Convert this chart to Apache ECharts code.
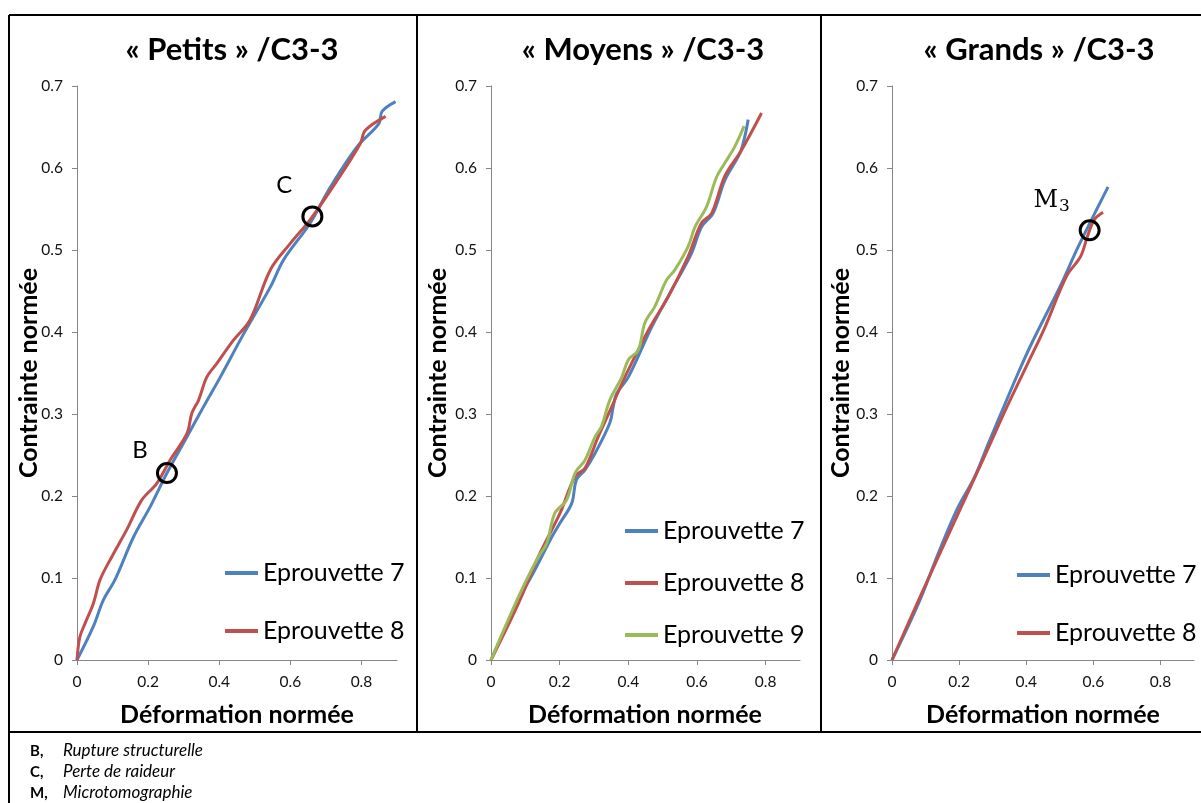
<!DOCTYPE html>
<html><head><meta charset="utf-8">
<script src="https://cdn.jsdelivr.net/npm/echarts@6/dist/echarts.min.js"></script>
<style>html,body{margin:0;padding:0;background:#fff}#c{width:1201px;height:803px}</style>
</head><body><div id="c"></div>
<script>
// ---- data ----
const panelTitles = ['« Petits » /C3-3', '« Moyens » /C3-3', '« Grands » /C3-3'];
const xAxisTitle = 'Déformation normée';
const yAxisTitle = 'Contrainte normée';
const xTickValues = [0, 0.2, 0.4, 0.6, 0.8];
const seriesNames = ['Eprouvette 7', 'Eprouvette 8', 'Eprouvette 9'];

const petits7X = [0, 0.046, 0.074, 0.107, 0.159, 0.206, 0.253, 0.309, 0.356, 0.403, 0.469, 0.544, 0.581, 0.656, 0.713, 0.788, 0.849, 0.858, 0.896];
const petits7Y = [0, 0.041, 0.073, 0.098, 0.150, 0.187, 0.228, 0.272, 0.309, 0.345, 0.398, 0.455, 0.488, 0.533, 0.577, 0.626, 0.654, 0.669, 0.681];
const petits8X = [0, 0.008, 0.023, 0.046, 0.065, 0.098, 0.140, 0.182, 0.224, 0.262, 0.309, 0.323, 0.342, 0.365, 0.394, 0.440, 0.487, 0.544, 0.600, 0.656, 0.732, 0.797, 0.811, 0.868];
const petits8Y = [0, 0.028, 0.045, 0.069, 0.098, 0.126, 0.159, 0.195, 0.215, 0.244, 0.276, 0.301, 0.317, 0.345, 0.362, 0.390, 0.415, 0.476, 0.508, 0.537, 0.585, 0.630, 0.646, 0.663];

const moyens7X = [0, 0.080, 0.128, 0.177, 0.201, 0.235, 0.249, 0.274, 0.303, 0.346, 0.356, 0.366, 0.400, 0.468, 0.526, 0.584, 0.613, 0.647, 0.681, 0.725, 0.739, 0.749];
const moyens7Y = [0, 0.073, 0.110, 0.150, 0.167, 0.191, 0.220, 0.232, 0.252, 0.289, 0.309, 0.325, 0.345, 0.406, 0.451, 0.496, 0.528, 0.545, 0.585, 0.618, 0.638, 0.659];
const moyens8X = [0, 0.080, 0.138, 0.201, 0.245, 0.274, 0.312, 0.356, 0.390, 0.458, 0.516, 0.574, 0.613, 0.643, 0.681, 0.730, 0.788];
const moyens8Y = [0, 0.069, 0.126, 0.179, 0.224, 0.234, 0.272, 0.313, 0.345, 0.402, 0.443, 0.492, 0.533, 0.545, 0.590, 0.622, 0.667];
const moyens9X = [0, 0.080, 0.138, 0.162, 0.186, 0.220, 0.245, 0.274, 0.303, 0.322, 0.346, 0.381, 0.400, 0.429, 0.448, 0.477, 0.511, 0.536, 0.574, 0.594, 0.628, 0.657, 0.681, 0.710, 0.737];
const moyens9Y = [0, 0.077, 0.126, 0.142, 0.179, 0.195, 0.228, 0.244, 0.272, 0.285, 0.317, 0.345, 0.366, 0.378, 0.411, 0.431, 0.463, 0.476, 0.504, 0.528, 0.553, 0.589, 0.606, 0.626, 0.651];

const grands7X = [0, 0.079, 0.138, 0.193, 0.247, 0.287, 0.321, 0.376, 0.416, 0.505, 0.555, 0.644];
const grands7Y = [0, 0.069, 0.130, 0.183, 0.224, 0.264, 0.297, 0.350, 0.386, 0.459, 0.504, 0.577];
const grands8X = [0, 0.088, 0.193, 0.262, 0.327, 0.352, 0.405, 0.456, 0.520, 0.562, 0.582, 0.603, 0.629];
const grands8Y = [0, 0.081, 0.175, 0.236, 0.295, 0.317, 0.362, 0.406, 0.468, 0.492, 0.516, 0.537, 0.546];

// annotation markers (circles) per panel
const petitsMarkLabels = ['B', 'C'];
const petitsMarkX = [0.253, 0.662];
const petitsMarkY = [0.228, 0.541];
const grandsMarkLabels = ['M'];
const grandsMarkX = [0.589];
const grandsMarkY = [0.524];

const footLabels = ['B,', 'C,', 'M,'];
const footTexts = ['Rupture structurelle', 'Perte de raideur', 'Microtomographie'];

// ---- build ----
const FONT = 'Lato, "Open Sans", sans-serif';
const SERIF = '"DejaVu Serif", "Liberation Serif", serif';
const colors = ['#4F81BD', '#C0504D', '#9BBB59'];
const pairs = (xs, ys) => xs.map((x, i) => [x, ys[i]]);

const grids = [
  {left: 77, top: 86, width: 320, height: 574},
  {left: 491, top: 86, width: 309, height: 574},
  {left: 892, top: 86, width: 302, height: 574}
];
const titleCenters = [232, 643, 1039];
const xTitleCenters = [237, 645, 1043];
const yTitleCenters = [29, 438, 841];

const xAxes = grids.map((g, i) => ({
  type: 'value', gridIndex: i, min: 0, max: 0.9, interval: 0.2,
  axisLine: {show: true, lineStyle: {color: '#868686', width: 1}},
  axisTick: {show: true, length: 5, customValues: xTickValues, lineStyle: {color: '#868686'}},
  axisLabel: {customValues: xTickValues, margin: 14, fontSize: 15.5, color: '#111', fontFamily: FONT},
  splitLine: {show: false}
}));
const yAxes = grids.map((g, i) => ({
  type: 'value', gridIndex: i, min: 0, max: 0.7, interval: 0.1,
  axisLine: {show: true, lineStyle: {color: '#868686', width: 1}},
  axisTick: {show: true, length: 5, lineStyle: {color: '#868686'}},
  axisLabel: {margin: 14, fontSize: 15.5, color: '#111', fontFamily: FONT},
  splitLine: {show: false}
}));

function lineSeries(name, colorIdx, gi, xs, ys) {
  return {
    type: 'line', name: name, xAxisIndex: gi, yAxisIndex: gi,
    data: pairs(xs, ys), showSymbol: false, symbol: 'none', smooth: 0.35,
    lineStyle: {color: colors[colorIdx], width: 3}, itemStyle: {color: colors[colorIdx]},
    z: 2
  };
}

function markerSeries(gi, labels, xs, ys, labelOffsets, rich) {
  return {
    type: 'scatter', name: 'marks' + gi, xAxisIndex: gi, yAxisIndex: gi,
    symbol: 'circle', symbolSize: 19, z: 5,
    itemStyle: {color: 'rgba(0,0,0,0)', borderColor: '#000', borderWidth: 3, opacity: 1},
    data: xs.map((x, i) => ({
      value: [x, ys[i]],
      label: {show: true, formatter: labels[i] === 'M' ? '{m|M}{s|3}' : labels[i], offset: labelOffsets[i],
        position: 'inside', fontSize: 24, color: '#000', fontFamily: FONT, rich: rich}
    })),
    silent: true
  };
}

const series = [
  lineSeries(seriesNames[0], 0, 0, petits7X, petits7Y),
  lineSeries(seriesNames[1], 1, 0, petits8X, petits8Y),
  lineSeries(seriesNames[0], 0, 1, moyens7X, moyens7Y),
  lineSeries(seriesNames[1], 1, 1, moyens8X, moyens8Y),
  lineSeries(seriesNames[2], 2, 1, moyens9X, moyens9Y),
  lineSeries(seriesNames[0], 0, 2, grands7X, grands7Y),
  lineSeries(seriesNames[1], 1, 2, grands8X, grands8Y),
  markerSeries(0, petitsMarkLabels, petitsMarkX, petitsMarkY, [[-27, -23], [-28, -31]], {}),
  markerSeries(2, grandsMarkLabels, grandsMarkX, grandsMarkY, [[-38, -30]], {
    m: {fontFamily: SERIF, fontSize: 24, color: '#000'},
    s: {fontFamily: SERIF, fontSize: 17, color: '#000', verticalAlign: 'bottom', padding: [12, 0, 0, 1]}
  })
];

const legendBase = {
  orient: 'vertical', icon: 'rect', itemWidth: 33, itemHeight: 4,
  textStyle: {fontSize: 25, color: '#000', fontFamily: FONT, lineHeight: 26},
  padding: 0, selectedMode: false
};
const legends = [
  Object.assign({}, legendBase, {left: 225, top: 560, itemGap: 32, data: [seriesNames[0], seriesNames[1]]}),
  Object.assign({}, legendBase, {left: 625, top: 518, itemGap: 26, data: [seriesNames[0], seriesNames[1], seriesNames[2]]}),
  Object.assign({}, legendBase, {left: 1017, top: 562, itemGap: 32, data: [seriesNames[0], seriesNames[1]]})
];

const titles = panelTitles.map((t, i) => ({
  text: t, left: titleCenters[i], top: 34, textAlign: 'center', padding: 0,
  textStyle: {fontSize: 31, fontWeight: 'bold', color: '#000', fontFamily: FONT}
}));

const graphic = [];
// frame lines
const lineStyle = {stroke: '#000', lineWidth: 2};
graphic.push({type: 'line', shape: {x1: 9, y1: 15, x2: 1201, y2: 15}, style: lineStyle, silent: true});
graphic.push({type: 'line', shape: {x1: 9, y1: 15, x2: 9, y2: 803}, style: lineStyle, silent: true});
graphic.push({type: 'line', shape: {x1: 9, y1: 732, x2: 1201, y2: 732}, style: lineStyle, silent: true});
graphic.push({type: 'line', shape: {x1: 417, y1: 15, x2: 417, y2: 732}, style: lineStyle, silent: true});
graphic.push({type: 'line', shape: {x1: 821, y1: 15, x2: 821, y2: 732}, style: lineStyle, silent: true});
// axis titles
for (let i = 0; i < 3; i++) {
  graphic.push({type: 'text', x: xTitleCenters[i], y: 715, style: {text: xAxisTitle, fontSize: 25, fontWeight: 'bold', fontFamily: FONT, fill: '#000', align: 'center', verticalAlign: 'middle'}, silent: true});
  graphic.push({type: 'text', x: yTitleCenters[i], y: 373, rotation: Math.PI / 2, style: {text: yAxisTitle, fontSize: 25, fontWeight: 'bold', fontFamily: FONT, fill: '#000', align: 'center', verticalAlign: 'middle'}, silent: true});
}
// footnotes
const footY = [751, 772, 793];
for (let i = 0; i < 3; i++) {
  graphic.push({type: 'text', x: 30, y: footY[i], style: {text: footLabels[i], fontSize: 15, fontWeight: 'bold', fontFamily: FONT, fill: '#000', verticalAlign: 'middle'}, silent: true});
  graphic.push({type: 'text', x: 63, y: footY[i], style: {text: footTexts[i], fontSize: 17, fontStyle: 'italic', fontFamily: FONT, fill: '#000', verticalAlign: 'middle'}, silent: true});
}

const chart = echarts.init(document.getElementById('c'), null, {renderer: 'canvas'});
chart.setOption({
  animation: false,
  backgroundColor: '#fff',
  title: titles,
  legend: legends,
  grid: grids,
  xAxis: xAxes,
  yAxis: yAxes,
  series: series,
  graphic: graphic
});
</script></body></html>
